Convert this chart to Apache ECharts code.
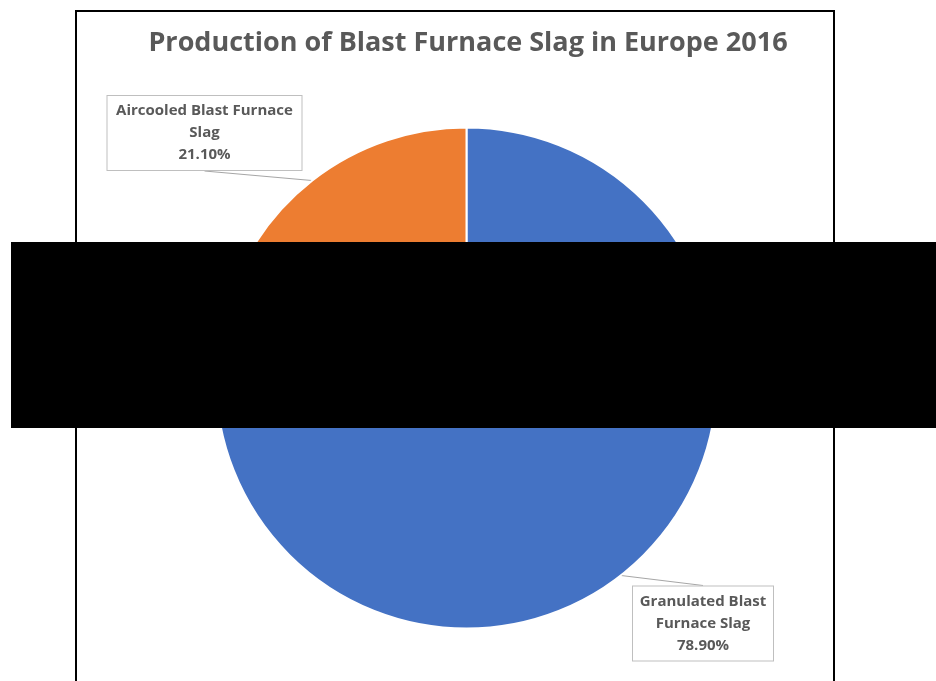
<!DOCTYPE html>
<html>
<head>
<meta charset="utf-8">
<script src="https://cdn.jsdelivr.net/npm/echarts@6/dist/echarts.min.js"></script>
<style>
  html, body { margin: 0; padding: 0; background: #ffffff; }
  #chart { width: 936px; height: 681px; }
</style>
</head>
<body>
<div id="chart"></div>
<script>
// Slag production split, Europe 2016 (share of total, %)
const categories = ['Granulated Blast\nFurnace Slag', 'Aircooled Blast Furnace\nSlag'];
const shares = [78.9, 21.1];
const colors = ['#4472C4', '#ED7D31'];
const titleText = 'Production of Blast Furnace Slag in Europe 2016';

const FONT = '"Open Sans", "Noto Sans", sans-serif';
const TEXT_GREY = '#595959';

// Callout box placement for each slice (centre of the box) and which
// box edge the leader line attaches to (+1 bottom, -1 top)
const calloutCentres = [[703, 623.5], [204.5, 133]];
const calloutWidths = [128, 182];
const calloutAttach = [-1, 1];

const chart = echarts.init(document.getElementById('chart'), null, { renderer: 'canvas' });

const option = {
  backgroundColor: '#ffffff',
  animation: false,
  title: {
    text: titleText,
    left: 'center',
    top: 25,
    textStyle: {
      fontFamily: FONT,
      fontWeight: 'bold',
      fontSize: 27,
      color: TEXT_GREY
    }
  },
  graphic: [
    {
      type: 'rect',
      z: 0,
      shape: { x: 76, y: 11, width: 758, height: 700 },
      style: { fill: 'none', stroke: '#000000', lineWidth: 2 }
    },
    {
      type: 'rect',
      z: 100,
      zlevel: 1,
      shape: { x: 11, y: 242, width: 925, height: 186 },
      style: { fill: '#000000' }
    }
  ],
  series: [
    {
      type: 'pie',
      center: [466.5, 378],
      radius: 250.5,
      startAngle: 90,
      clockwise: true,
      data: categories.map((name, i) => ({
        name: name,
        value: shares[i],
        itemStyle: { color: colors[i] },
        label: { width: calloutWidths[i] }
      })),
      itemStyle: { borderColor: '#ffffff', borderWidth: 2 },
      label: {
        show: true,
        position: 'outside',
        formatter: p => p.name + '\n' + p.value.toFixed(2) + '%',
        fontFamily: FONT,
        fontWeight: 'bold',
        fontSize: 15,
        lineHeight: 22,
        color: TEXT_GREY,
        align: 'center',
        backgroundColor: '#ffffff',
        borderColor: '#BFBFBF',
        borderWidth: 1,
        padding: [6, 6, 2, 6]
      },
      labelLine: {
        show: true,
        length: 10,
        length2: 0,
        lineStyle: { color: '#A6A6A6', width: 1 }
      },
      labelLayout: function (params) {
        const i = params.dataIndex;
        const c = calloutCentres[i];
        const h = params.labelRect.height;
        const edge = params.labelLinePoints ? params.labelLinePoints[0] : null;
        const attach = [c[0], c[1] + calloutAttach[i] * h / 2];
        const out = {
          x: c[0],
          y: c[1],
          align: 'center',
          verticalAlign: 'middle'
        };
        if (edge) {
          out.labelLinePoints = [edge, attach, attach];
        }
        return out;
      }
    }
  ]
};

chart.setOption(option);
</script>
</body>
</html>
